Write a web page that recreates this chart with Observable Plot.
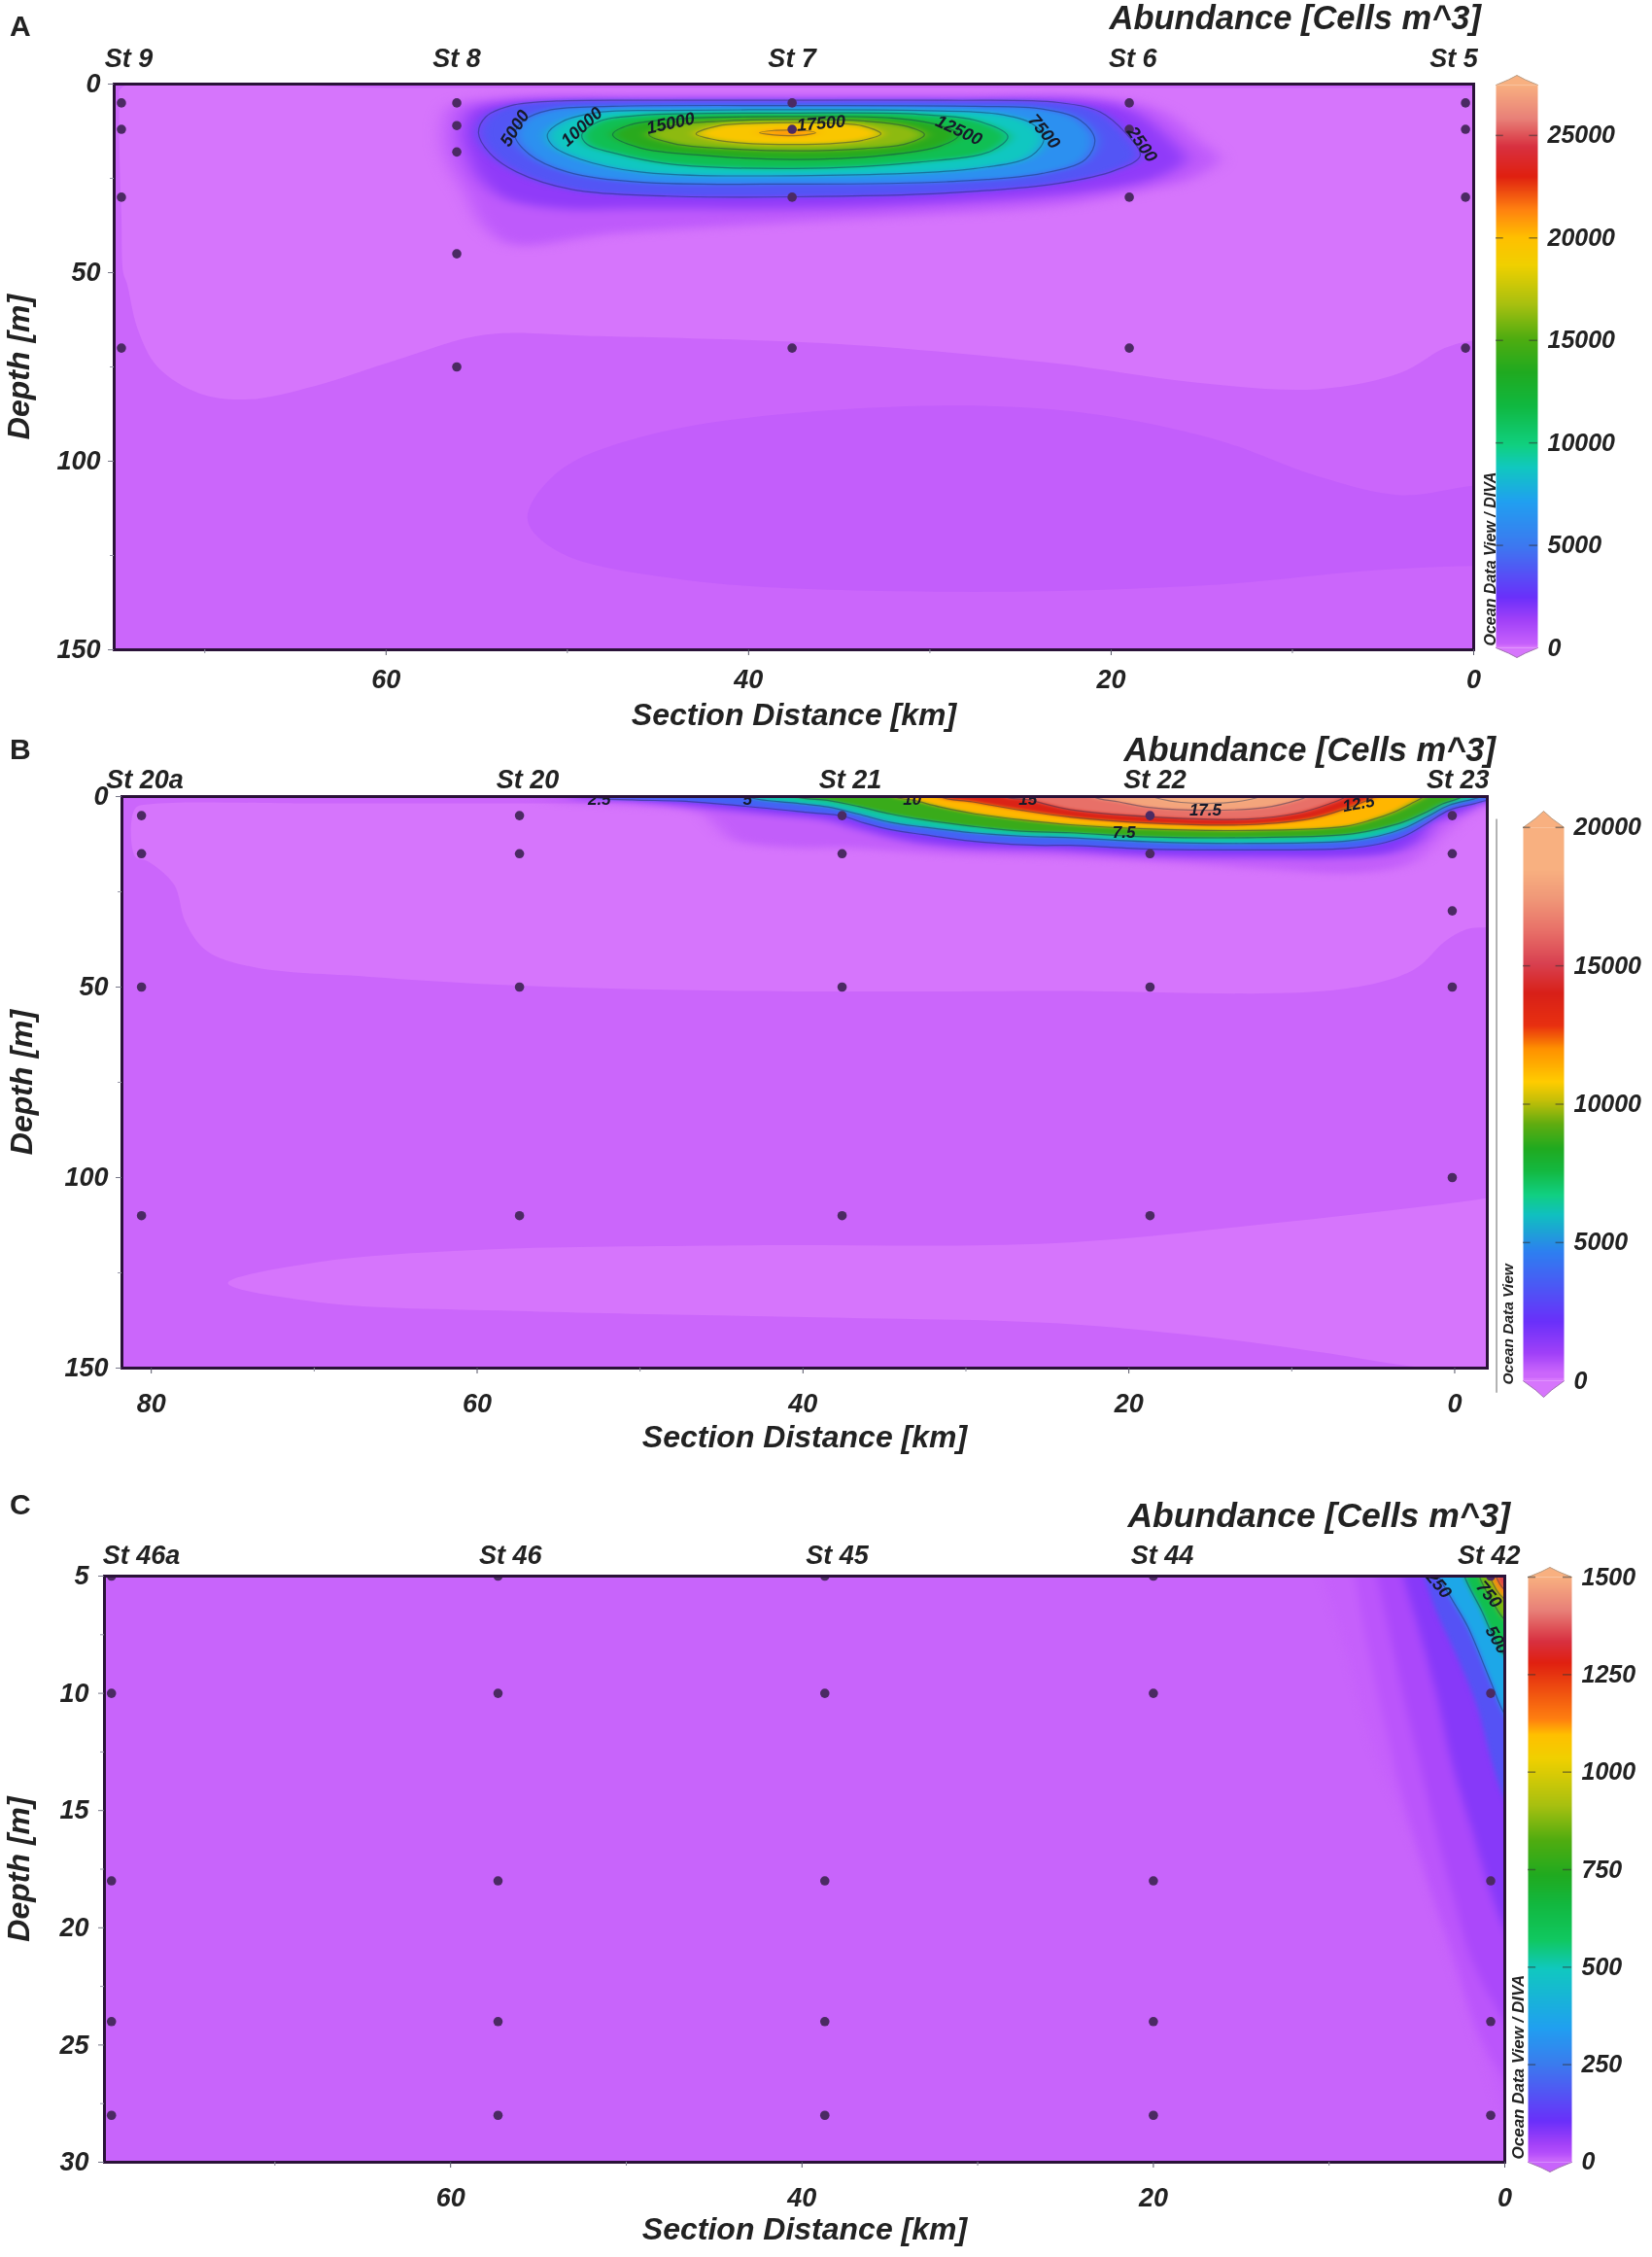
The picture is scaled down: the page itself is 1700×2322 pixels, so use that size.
<!DOCTYPE html>
<html>
<head>
<meta charset="utf-8">
<script src="https://cdn.jsdelivr.net/npm/d3@7"></script>
<script src="https://cdn.jsdelivr.net/npm/@observablehq/plot@0.6"></script>
<style>
html,body{margin:0;padding:0;background:#fff}
#page{position:relative;width:1700px;height:2322px;overflow:hidden;font-family:"Liberation Sans",Arial,sans-serif;color:#222;filter:blur(0.5px)}
.slot{position:absolute}
.slot svg{display:block;overflow:visible;max-width:none}
.letter{position:absolute;font-weight:700;font-size:30px;line-height:30px}
.title{position:absolute;font-weight:700;font-style:italic;font-size:34.5px;line-height:34px;text-align:right;white-space:nowrap}
</style>
</head>
<body>
<svg width="0" height="0" style="position:absolute">
  <defs>
    <filter id="haloA" x="-20%" y="-40%" width="140%" height="180%" color-interpolation-filters="sRGB"><feGaussianBlur stdDeviation="9 5"/></filter>
    <filter id="coreA" x="-20%" y="-40%" width="140%" height="180%" color-interpolation-filters="sRGB"><feGaussianBlur stdDeviation="7 2.2"/></filter>
    <filter id="haloB" x="-20%" y="-40%" width="140%" height="180%" color-interpolation-filters="sRGB"><feGaussianBlur stdDeviation="9 3.5"/></filter>
    <filter id="coreB" x="-20%" y="-40%" width="140%" height="180%" color-interpolation-filters="sRGB"><feGaussianBlur stdDeviation="5 1.7"/></filter>
    <filter id="haloC" x="-20%" y="-20%" width="140%" height="140%" color-interpolation-filters="sRGB"><feGaussianBlur stdDeviation="4"/></filter>
    <filter id="coreC" x="-20%" y="-20%" width="140%" height="140%" color-interpolation-filters="sRGB"><feGaussianBlur stdDeviation="2.5"/></filter>
  </defs>
</svg>
<div id="page"></div>
<script>
// ---------- shared labels ----------
const titleText = "Abundance [Cells m^3]";
const xLabel = "Section Distance [km]";
const yLabel = "Depth [m]";
const xMajor = [0, 20, 40, 60];
const xMajorB = [0, 20, 40, 60, 80];
const xMinor = [10, 30, 50, 70];

// ---------- panel A: stations ----------
const aNames = ["St 9", "St 8", "St 7", "St 6", "St 5"];
const aKm = [74.6, 56.1, 37.6, 19.0, 0.45];
const aNameKm = [74.2, 56.1, 37.6, 18.8, 1.1];
const aCasts = [[5,12,30,70],[5,11,18,45,75],[5,12,30,70],[5,12,30,70],[5,12,30,70]];
// panel A: isolines, as [km, depth]
const a20000 = [[39.4,12.9],[38.6,12.3],[37.8,12.2],[36.9,12.3],[36.3,12.9],[36.9,13.5],[37.8,13.7],[38.6,13.5]];
const a17500 = [[42.9,13.2],[41.7,11.1],[39.8,10.4],[37.5,10.2],[35.2,10.4],[33.7,11.1],[32.7,13.2],[33.7,14.9],[35.5,15.8],[37.5,16],[39.8,15.8],[41.7,14.9]];
const a15000 = [[45.5,13.4],[44.1,10.9],[41.3,9.8],[37.5,9.4],[33.6,9.8],[31.2,11.3],[30.3,13.4],[31.3,15.8],[33.6,17.1],[37.5,17.7],[41.3,17.1],[44.1,15.8]];
const a12500 = [[47.5,13.4],[46.6,10.9],[43.8,9.2],[37.5,8.6],[32.1,9],[29.5,10.9],[28.4,13.4],[29.4,16.4],[32.7,19],[37.5,20],[42.3,19],[46,16.9]];
const a10000 = [[49.2,13.4],[48.3,10],[46,8.3],[37.5,7.7],[30.6,8],[27.2,10],[25.7,13.9],[26.6,17.7],[30.6,20.7],[37.5,22.4],[44.5,21.1],[47.5,18.2],[48.9,16]];
const a7500 = [[51.1,13.4],[50.3,10],[48.1,7.4],[44.5,7],[37.5,6.8],[30.6,7],[26.3,7.9],[24.4,10.4],[23.7,14.3],[24.4,19],[27.5,22.4],[37.5,24.3],[46,23.3],[49.3,19.9],[50.8,16.4]];
const a5000 = [[52.9,13.4],[52.4,9.6],[50.9,6.8],[47.5,5.9],[37.5,5.7],[27.5,5.9],[23.8,6.6],[21.7,9.6],[20.9,14.7],[21.4,19.9],[23.8,23.7],[29.1,25.9],[37.5,26.5],[46,26],[50,23.3],[52.1,18.6]];
const a2500 = [[54.9,13],[54.5,8.7],[53.1,5.7],[50.6,4.5],[44.5,4.3],[37.5,4.3],[29.1,4.3],[22.9,4.9],[20.6,7.4],[19.2,13],[18.4,19],[19.8,22.9],[22.9,26.3],[29.1,28.9],[37.5,29.9],[44.5,29.7],[49.7,28],[52.8,23.3],[54.3,18.2]];
const a1200 = [[55.8,13.5],[55.4,7.5],[53.6,4.8],[44.5,3.9],[37.5,3.9],[29.1,3.9],[21,4.4],[18.7,7.4],[16.9,14],[15.9,20],[17.3,24.5],[20.5,28],[29.1,31.5],[37.5,33],[46,33],[50.5,33],[53.6,30],[55,24],[55.5,19]];
const a300 = [[56.9,13.9],[56.5,6.2],[54.3,3.8],[44.5,3.3],[37.5,3.3],[29.1,3.3],[19.8,3.8],[17.1,7.4],[15.2,14.7],[14.1,19.9],[15.5,25],[18.3,28.4],[22.9,32.3],[29.1,34.4],[37.5,36.6],[47.5,39.6],[53.1,42.5],[54.6,37.8],[55.8,27.6],[56.6,20.7]];
// panel A: pale and deep background regions
const aPale = [[74.6,1],[60,1],[45,1],[30,1],[15,1],[0,1],[-3,1],[-3,68],[0,68],[1.6,70],[4,76.5],[8.6,80.9],[15.6,79],[23.2,74],[34.8,69],[48.7,66.8],[54.6,66.5],[59.2,72.8],[63.9,80],[67.6,83.6],[70.3,82],[72.6,75],[73.7,65],[74.3,52.8],[74.5,50],[74.6,35],[74.7,20],[74.7,5]];
const aDeep = [[52.2,115.3],[50.5,102.8],[45.3,92.8],[34.8,86.3],[23.2,86.3],[14.4,94],[8.6,104],[4,109],[0,106.5],[-3,106],[-3,128],[0,127.8],[5.7,129],[14.4,132.8],[29,134.6],[43.5,131.5],[50.5,124]];
// panel A: colour scale, contour labels
const aColorDomain = [0,99.9,100.1,199.9,200.1,300,1373,2471,4943,7140,8787,9885,11808,13455,15100,16750,18670,20000,21400,23000,24440,25800,27460];
const aColorRange = ["#d675fc","#d675fc","#cb66fb","#cb66fb","#c35efb","#c35efb","#a040f8","#6a30fa","#3d78f0","#20a0f0","#10c8c0","#10d080","#10b840","#20aa20","#50ac10","#a8c010","#f0d000","#ffc000","#ff8010","#e02010","#d83040","#e88078","#f8b080"];
const aLabelText = ["5000","10000","15000","17500","12500","7500","2500"];
const aLabelKm = [52.9,49.2,44.3,36,28.4,23.7,18.3];
const aLabelDepth = [11.7,11.3,10.4,10.4,12.3,12.6,16];
const aLabelAngle = [-58,-42,-12,-5,25,50,55];
const aBarTicks = [0,5000,10000,15000,20000,25000];

// ---------- panel B: stations ----------
const bNames = ["St 20a", "St 20", "St 21", "St 22", "St 23"];
const bKm = [80.6, 57.4, 37.6, 18.7, 0.15];
const bNameKm = [80.4, 56.9, 37.1, 18.4, -0.2];
const bCasts = [[5,15,50,110],[5,15,50,110],[5,15,50,110],[5,15,50,110],[5,15,30,50,100]];
// panel B: isolines (each closes above the frame)
const b18800 = [[19,-1],[18,0.7],[15.3,1.8],[12.5,0.7],[11.5,-1],[15,-4]];
const b17500 = [[22.2,0],[20.6,1.4],[18.6,2.9],[15.3,3.6],[11.7,2.9],[9.7,1],[9.1,0],[8.5,-4],[23,-4]];
const b15000 = [[27.6,0],[26.2,0.85],[23.6,3.4],[18.6,5.3],[12.7,5.9],[9.7,4.4],[7.7,1.9],[6.7,0],[6,-4],[28.5,-4]];
const b12500 = [[31.6,0],[29.6,1.4],[26.6,3.6],[23.6,5.4],[18.6,7],[12.7,7.4],[8.7,5.7],[6.7,3.2],[5.9,1.9],[4.9,0],[4,-4],[32.5,-4]];
const b10000 = [[34.4,0],[33.2,1],[31.6,2.7],[29.6,4.4],[26.6,6.1],[23.6,7.4],[18.6,8.5],[12.7,8.9],[6.7,7.8],[5.1,6.1],[3.7,4],[2.7,1.9],[1.9,0],[1,-4],[35.5,-4]];
const b7500 = [[40.5,0],[38.5,1],[36.6,2.6],[34.6,4.6],[32.6,6.1],[29.6,7.8],[26.6,9.1],[23.6,9.5],[18.6,10.6],[12.7,10.8],[6.7,10],[4.7,8.5],[3.1,6.6],[1.7,4],[0.75,1.9],[-0.45,0],[-1.2,-4],[42,-4]];
const b5000 = [[43.5,0],[40.5,1.7],[38.5,2.7],[36.6,4.6],[34.6,6.8],[32.6,8],[29.6,9.5],[26.6,10.4],[23.6,10.8],[18.6,11.9],[12.7,12.3],[6.7,11.7],[4.7,10.4],[3.1,8.3],[1.7,5.3],[0.35,2.3],[-1.2,0.6],[-1.6,0],[-2.5,-4],[45,-4]];
const b2500 = [[52.9,0],[50.5,0.85],[47.5,1.2],[43.5,2.55],[39.5,4.26],[37.6,5.1],[36.2,7],[34.6,8.7],[32.6,10],[29.6,11.7],[25.6,12.8],[23.6,12.8],[18.6,13.8],[12.7,14],[6.7,13.6],[4.7,12.5],[3.1,10.4],[1.7,7],[0.35,3.6],[-1.2,1.9],[-2,1],[-4,0.5],[-4,-4],[54,-4]];
const b1000 = [[54,0],[51.5,0.6],[47.5,2.3],[43.5,4],[41.5,4.85],[38.5,6.1],[36.6,8.5],[33.6,11.7],[30.6,13.2],[26.6,13.8],[23.6,14.2],[18.6,15.5],[12.7,15.9],[6.7,15.9],[3.7,14.6],[2.1,11.2],[1.35,7],[0.2,5.3],[-0.85,3.6],[-1.85,1.4],[-4,1],[-4,-4],[55,-4]];
const b300 = [[56,0.3],[52,2],[47.5,3.3],[46,5],[45.3,7.7],[44.3,11.4],[40.1,13.5],[37.6,13.4],[31,15.2],[24.5,16],[18,17.3],[11.6,19],[5.8,20],[2.5,17],[0.6,9.5],[-0.8,4.5],[-1.9,1.9],[-4,1.5],[-4,-4],[57,-4]];
// panel B: pale background regions
const bPale = [[81,3.2],[80,2],[70,1.8],[60,1.8],[46,1.8],[20,1.8],[-4,1.8],[-4,34.3],[-2,34.3],[-0.7,34.9],[0.6,38],[2.5,45.4],[7,50.6],[24.5,51],[44,51],[56.9,49.7],[66.6,47.3],[73.7,44.8],[76.6,40.5],[77.9,33],[78.6,23.1],[80.2,17],[81,15.7]];
const bLens = [[75.3,127.7],[69.8,122.2],[60.1,119],[44,117.8],[24.5,117.2],[11.6,112.2],[-2,105.4],[-5,103],[-5,153],[2.5,149.6],[8.4,145.7],[14.8,142],[24.5,138.2],[37.5,136.8],[56.9,135.1],[69.8,132.7]];
// panel B: colour scale, contour labels
const bColorDomain = [0,99.9,100.1,300,1000,2140,4680,6000,6740,7600,8400,9280,10160,10800,12000,12840,14000,15060,16260,17440,18480,20000];
const bColorRange = ["#d675fc","#d675fc","#cb66fb","#cb66fb","#a040f8","#6a30fa","#2d80f0","#10c0c0","#10d080","#14b840","#20aa20","#60ac10","#c8c008","#ffcc00","#ff9000","#e83010","#d82018","#d84050","#e87068","#f09878","#f8b080","#f8b080"];
const bLabelText = ["17.5","7.5","12.5","10","15","2.5","5"];
const bLabelKm = [15.3,20.3,5.9,33.3,26.2,52.5,43.4];
const bLabelDepth = [3.6,9.5,1.9,0.85,0.85,0.85,0.85];
const bLabelAngle = [0,0,-10,0,0,0,0];
const bBarTicks = [0,5000,10000,15000,20000];

// ---------- panel C: stations ----------
const cNames = ["St 46a", "St 46", "St 45", "St 44", "St 42"];
const cKm = [79.3, 57.3, 38.7, 20, 0.8];
const cNameKm = [77.6, 56.6, 38, 19.5, 0.9];
const cCasts = [[5,10,18,24,28],[5,10,18,24,28],[5,10,18,24,28],[5,10,18,24,28],[5,10,18,24,28]];
// panel C: isolines (each closes outside the frame)
const c1250 = [[0.5,5],[0,5.6],[-1,6],[-1,4],[0.7,4]];
const c1000 = [[0.85,5],[0,6],[-1,6.3],[-1,4],[1,4]];
const c750 = [[1.45,5],[0.62,6.2],[0,6.85],[-1,7.2],[-1,4],[1.7,4]];
const c500 = [[2.3,5],[1.3,6.5],[0.7,7.5],[0,8.4],[-1,9],[-1,4],[2.6,4]];
const c250 = [[3.76,5],[3,6],[2.1,7.17],[0.8,9.5],[0,10.9],[-1,11.8],[-1,4],[4.2,4]];
const c100 = [[4.6,5],[3.9,6.5],[2.65,8.55],[1.6,10.5],[0.7,13],[0,14.5],[-1,15.5],[-1,4],[5,4]];
const c50 = [[5.8,5],[5,7],[3.9,10],[3,13],[1.8,16],[0.8,18.5],[0,20],[-1,21],[-1,4],[6.2,4]];
const c25 = [[7.3,5],[6.4,8],[5.5,11],[4.2,15],[3,18.5],[1.8,21.5],[0,24],[-1,25],[-1,4],[7.7,4]];
const c12 = [[8.6,5],[7.8,8],[6.8,11.5],[5.6,15],[4.4,18],[3,21],[1.5,24.5],[0,26.5],[-1,27.5],[-1,4],[9,4]];
const c8 = [[10.4,5],[9.1,8],[7.6,12],[5.4,16],[4.7,17.4],[3,21.5],[1,26],[0,28],[-1,29],[-1,4],[10.8,4]];
// panel C: colour scale, contour labels
const cColorDomain = [0,8,12,25,50,105,250,345,495,570,660,735,825,915,1035,1095,1135,1280,1335,1415,1500];
const cColorRange = ["#c864fb","#c864fb","#c25cfb","#b34dfb","#a040f8","#6a30fa","#3b7bee","#20a0f0","#10c8c0","#10c860","#12b840","#20aa20","#50ac10","#a8c010","#f0d000","#ffc000","#ff8010","#e02010","#d83040","#e88078","#f8b080"];
const cLabelText = ["750","500","250"];
const cLabelKm = [0.9,0.44,3.76];
const cLabelDepth = [5.79,7.72,5.37];
const cLabelAngle = [50,60,50];
const cBarTicks = [0,250,500,750,1000,1250,1500];

// ---------- helpers ----------
// ring(points, contour level, value whose colour fills the ring's inside)
const ring = (rows, level, shade) => rows.map(([km, depth]) => ({km, depth, level, shade}));
const aBack = [...ring(aPale,"pale",50),...ring(aDeep,"deep",250)];
const aHalo = [...ring(a300,300,450),...ring(a1200,1200,1700)];
const aCore = [...ring(a2500,2500,3750),...ring(a5000,5000,6250),...ring(a7500,7500,8750),...ring(a10000,10000,11250),...ring(a12500,12500,13750),...ring(a15000,15000,16250),...ring(a17500,17500,19500),...ring(a20000,20000,21000)];
const bBack = [...ring(bPale,"pale",50),...ring(bLens,"lens",50)];
const bHalo = [...ring(b300,300,450),...ring(b1000,1000,1600)];
const bCore = [...ring(b2500,2500,3750),...ring(b5000,5000,6250),...ring(b7500,7500,8750),...ring(b10000,10000,11250),...ring(b12500,12500,13750),...ring(b15000,15000,16250),...ring(b17500,17500,18000),...ring(b18800,18800,19500)];
const cHalo = [...ring(c8,8,10),...ring(c12,12,18),...ring(c25,25,35),...ring(c50,50,75)];
const cCore = [...ring(c100,100,170),...ring(c250,250,370),...ring(c500,500,620),...ring(c750,750,870),...ring(c1000,1000,1120),...ring(c1250,1250,1350)];

const closed = "catmull-rom-closed";
const font = {fontFamily:'"Liberation Sans",Arial,sans-serif',fontStyle:"italic",fontWeight:700,color:"#222"};
const page = document.getElementById("page");
function slot(node, left, top, w, h){
  const d = document.createElement("div");
  d.className = "slot";
  d.style.cssText = `left:${left}px;top:${top}px;width:${w}px;height:${h}px`;
  d.appendChild(node); page.appendChild(d);
}
function note(cls, text, css){
  const d = document.createElement("div");
  d.className = cls; d.textContent = text; d.style.cssText = css; page.appendChild(d);
}
function section(c){
  const casts = c.km.flatMap((k,i)=>c.casts[i].map(d=>({km:k,depth:d})));
  const names = c.names.map((n,i)=>({n,km:c.nameKm[i]}));
  const labels = c.labelText.map((t,i)=>({t,km:c.labelKm[i],depth:c.labelDepth[i],a:c.labelAngle[i]}));
  const field = data=>Plot.line(data,{x:"km",y:"depth",z:"level",fill:"shade",stroke:"none",curve:closed,clip:true});
  const svg = Plot.plot({
    width:1700, height:c.h, marginTop:c.mt, marginBottom:c.mb, marginLeft:c.ml, marginRight:1700-c.right,
    style:{...font,fontSize:"27px",background:"transparent"},
    x:{domain:c.xDomain,axis:null}, y:{domain:c.yDomain,axis:null},
    color:{type:"linear",domain:c.colorDomain,range:c.colorRange,interpolate:"rgb",clamp:true},
    marks:[
      Plot.frame({fill:c.base,stroke:"none"}),
      ...(c.back.length?[field(c.back)]:[]),
      field(c.halo),
      field(c.core),
      Plot.line(c.lines,{x:"km",y:"depth",z:"level",curve:closed,stroke:"#14264e",strokeOpacity:0.42,strokeWidth:1.2,clip:true}),
      Plot.dot(casts,{x:"km",y:"depth",r:4.8,fill:"#4b2a63",clip:true}),
      Plot.text(labels,{x:"km",y:"depth",text:"t",rotate:"a",fontSize:c.labelSize,fill:"#161a2a",clip:true}),
      Plot.frame({stroke:"#2a1238",strokeWidth:3}),
      Plot.axisX(c.xTicks,{anchor:"bottom",label:null,tickSize:6,tickPadding:c.xPad,stroke:"#556",fontSize:27}),
      Plot.axisX(xMinor,{anchor:"bottom",label:null,tickSize:4,text:null,stroke:"#889"}),
      Plot.axisY(c.yTicks,{anchor:"left",label:null,tickSize:6,tickPadding:c.yPad,stroke:"#778",fontSize:27}),
      Plot.axisY(c.yMinor,{anchor:"left",label:null,tickSize:4,text:null,stroke:"#99a"}),
      Plot.text(names,{x:"km",text:"n",frameAnchor:"top",lineAnchor:"middle",dy:c.nameDy,fontSize:27}),
      Plot.text([xLabel],{frameAnchor:"bottom",lineAnchor:"middle",dy:c.xLabelDy,fontSize:32}),
      Plot.text([yLabel],{frameAnchor:"left",textAnchor:"middle",lineAnchor:"middle",rotate:-90,dx:c.yLabelDx,dy:c.yLabelDy,fontSize:32}),
      Plot.text([c.odv],{frameAnchor:"bottom-right",lineAnchor:"middle",rotate:-90,textAnchor:"start",dx:c.odvDx,dy:c.odvDy,fontSize:c.odvSize}),
      ...(c.extra||[])
    ]
  });
  // the line marks come in drawing order: optional background, halo, core, contour lines
  const groups = svg.querySelectorAll('g[aria-label="line"]');
  const first = c.back.length ? 1 : 0;
  if (groups[first]) groups[first].setAttribute("filter",`url(#halo${c.id})`);
  if (groups[first+1]) groups[first+1].setAttribute("filter",`url(#core${c.id})`);
  return svg;
}
function bar(c){
  const top = c.max + c.cap, bottom = -c.cap;
  const capTop = [[0,c.max],[0.3,c.max+c.cap*0.55],[0.5,top],[0.7,c.max+c.cap*0.55],[1,c.max]].map(([x,y])=>({x,y}));
  const capBottom = [[0,0],[0.3,-c.cap*0.55],[0.5,bottom],[0.7,-c.cap*0.55],[1,0]].map(([x,y])=>({x,y}));
  return Plot.plot({
    width:c.w+110, height:c.h+40, marginTop:20, marginBottom:20, marginLeft:0, marginRight:110,
    style:{...font,fontSize:"25px",background:"transparent"},
    x:{domain:[0,1],axis:null}, y:{domain:[bottom,top],axis:null},
    color:{type:"linear",domain:c.colorDomain,range:c.colorRange,interpolate:"rgb",clamp:true},
    marks:[
      Plot.line(capTop,{x:"x",y:"y",fill:c.colorRange[c.colorRange.length-1],stroke:"#b89a80",strokeWidth:1}),
      Plot.line(capBottom,{x:"x",y:"y",fill:c.colorRange[0],stroke:"#a070b0",strokeWidth:1}),
      Plot.raster({fill:(x,y)=>y,x1:0,x2:1,y1:0,y2:c.max,pixelSize:1}),
      Plot.ruleY(c.ticks.filter(t=>t>0),{x1:0,x2:0.18,stroke:"#333",strokeOpacity:0.55,strokeWidth:1.5}),
      Plot.ruleY(c.ticks.filter(t=>t>0),{x1:0.8,x2:1,stroke:"#333",strokeOpacity:0.55,strokeWidth:1.5}),
      Plot.axisY(c.ticks,{anchor:"right",label:null,tickSize:0,tickPadding:10,fontSize:25,textAnchor:"start",tickFormat:d=>String(d)})
    ]
  });
}

// ---------- panel A ----------
note("letter","A","left:10px;top:12px");
note("title",titleText,"right:176px;top:1px");
slot(section({id:"A",base:"#cb66fb",back:aBack,halo:aHalo,core:aCore,lines:aCore,km:aKm,casts:aCasts,names:aNames,nameKm:aNameKm,labelText:aLabelText,labelKm:aLabelKm,labelDepth:aLabelDepth,labelAngle:aLabelAngle,labelSize:18,
  colorDomain:aColorDomain,colorRange:aColorRange,h:740,mt:86,mb:72,ml:117,right:1516,xDomain:[75,0],yDomain:[150,0],xTicks:xMajor,yTicks:[0,50,100,150],yMinor:[25,75,125],
  xPad:14,yPad:8,nameDy:-26,xLabelDy:67,yLabelDx:-98,yLabelDy:0,odv:"Ocean Data View / DIVA",odvDx:17,odvDy:-4,odvSize:16}),0,0,1700,740);
slot(bar({ticks:aBarTicks,colorDomain:aColorDomain,colorRange:aColorRange,max:27460,cap:473,w:43,h:599}),1539,77-20,153,639);

// ---------- panel B ----------
note("letter","B","left:10px;top:756px");
note("title",titleText,"right:161px;top:754px");
slot(section({id:"B",base:"#cb66fb",back:bBack,halo:bHalo,core:bCore,lines:bCore,km:bKm,casts:bCasts,names:bNames,nameKm:bNameKm,labelText:bLabelText,labelKm:bLabelKm,labelDepth:bLabelDepth,labelAngle:bLabelAngle,labelSize:17,
  colorDomain:bColorDomain,colorRange:bColorRange,h:740,mt:79,mb:73,ml:125,right:1530,xDomain:[81.8,-2],yDomain:[150,0],xTicks:xMajorB,yTicks:[0,50,100,150],yMinor:[25,75,125],
  xPad:20,yPad:8,nameDy:-17,xLabelDy:71,yLabelDx:-103,yLabelDy:0,odv:"Ocean Data View",odvDx:22,odvDy:17,odvSize:15.5,
  extra:[Plot.ruleX([-2.57],{y1:6,y2:156.6,stroke:"#999",strokeWidth:1.5})]}),0,740,1700,740);
slot(bar({ticks:bBarTicks,colorDomain:bColorDomain,colorRange:bColorRange,max:20000,cap:590,w:42,h:603}),1567,834-20,152,643);

// ---------- panel C ----------
note("letter","C","left:10px;top:1533px");
note("title",titleText,"right:146px;top:1542px;font-size:35.5px");
slot(section({id:"C",base:"#c864fb",back:[],halo:cHalo,core:cCore,lines:[...ring(c250,250,370),...ring(c500,500,620),...ring(c750,750,870),...ring(c1000,1000,1120),...ring(c1250,1250,1350)],km:cKm,casts:cCasts,names:cNames,nameKm:cNameKm,labelText:cLabelText,labelKm:cLabelKm,labelDepth:cLabelDepth,labelAngle:cLabelAngle,labelSize:18,
  colorDomain:cColorDomain,colorRange:cColorRange,h:842,mt:141,mb:98,ml:107,right:1548,xDomain:[79.7,0],yDomain:[30,5],xTicks:xMajor,yTicks:[5,10,15,20,25,30],yMinor:[7.5,12.5,17.5,22.5,27.5],
  xPad:20,yPad:10,nameDy:-21,xLabelDy:69,yLabelDx:-88,yLabelDy:0,odv:"Ocean Data View / DIVA",odvDx:14,odvDy:-3,odvSize:17}),0,1480,1700,842);
slot(bar({ticks:cBarTicks,colorDomain:cColorDomain,colorRange:cColorRange,max:1500,cap:25,w:45,h:622}),1572,1612-20,155,662);
</script>
</body>
</html>
